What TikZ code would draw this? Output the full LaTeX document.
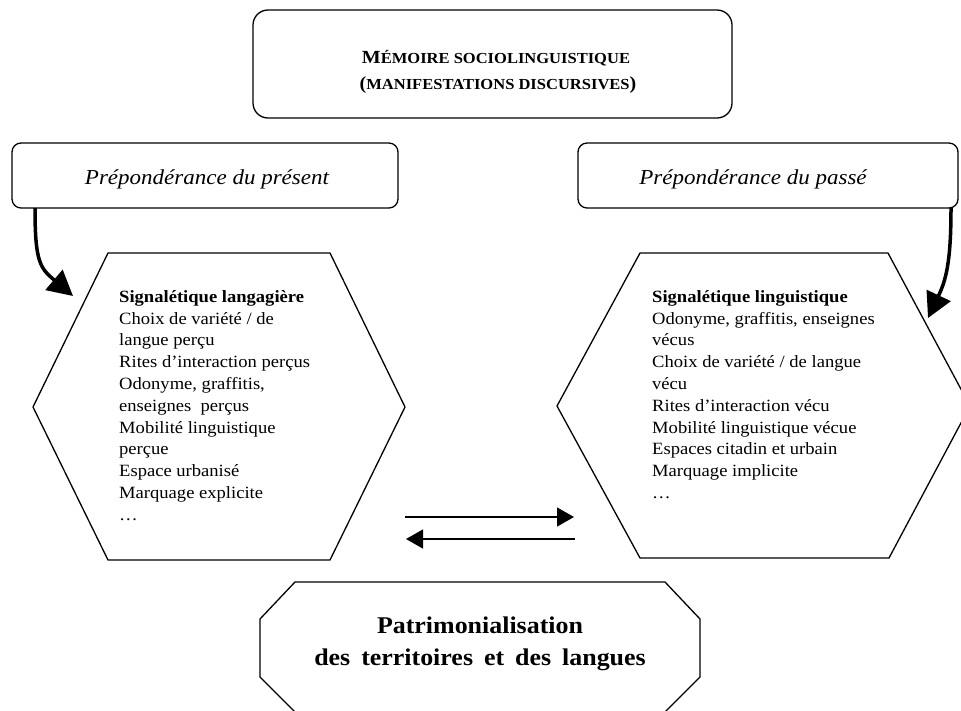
\documentclass[tikz,border=0pt]{standalone}
\usepackage{fontspec}
\setmainfont{Liberation Serif}[FakeStretch=1.08]
\usetikzlibrary{arrows.meta}
\newcommand\bigsc[1]{{\fontsize{18.5}{22}\selectfont #1}}
\newcommand\smsc[1]{{\fontsize{15.3}{18}\selectfont #1}}
\newcommand\widewordspace{\spaceskip=11pt\relax}
\begin{document}
\begin{tikzpicture}[x=1pt,y=-1pt,
  shapeline/.style={line width=1.3pt, line join=miter},
  tabbox/.style={draw, line width=1.3pt, rounded corners=9pt, minimum height=65pt, inner sep=0pt},
  tabtext/.style={font=\fontsize{21.3}{25}\selectfont\itshape, inner sep=0pt, anchor=base},
  titletext/.style={font=\bfseries, inner sep=0pt, anchor=base},
  hextext/.style={font=\fontsize{17.2}{21.8}\selectfont, align=left, inner sep=0pt, anchor=north west},
  bottomtext/.style={font=\fontsize{24}{30}\selectfont\bfseries\widewordspace, inner sep=0pt, anchor=base},
  bigarrow/.style={line width=3.5pt, -{Triangle[length=25pt,width=26pt]}},
  smallarrow/.style={line width=1.3pt, -{Triangle[length=17pt,width=19pt]}},
]
\useasboundingbox (0,0) rectangle (961,710);
\clip (0,0) rectangle (961,710);

% title box
\node[draw, line width=1.3pt, rounded corners=15pt, minimum width=479pt, minimum height=108pt, inner sep=0pt] (top) at (492.5,64) {};
\node[titletext] (title1) at (496,63) {\bigsc{M}\smsc{ÉMOIRE SOCIOLINGUISTIQUE}};
\node[titletext] (title2) at (498,89) {\bigsc{(}\smsc{MANIFESTATIONS DISCURSIVES}\bigsc{)}};

% tabs
\node[tabbox, minimum width=386pt] (ltab) at (205,175.5) {};
\node[tabtext] (ltabtext) at (207,184) {Prépondérance du présent};
\node[tabbox, minimum width=380pt] (rtab) at (768,175.5) {};
\node[tabtext] (rtabtext) at (753,184) {Prépondérance du passé};

% hexagons
\draw[shapeline] (33,407) -- (108,253) -- (330,253) -- (405,407) -- (330,560) -- (108,560) -- cycle;
\draw[shapeline] (557,406) -- (640,253) -- (888,253) -- (970,406) -- (889,558) -- (640,558) -- cycle;

\node[hextext] (lhex) at (119,288) {\rule{0pt}{14pt}\textbf{Signalétique langagière}\\
Choix de variété / de\\
langue perçu\\
Rites d’interaction perçus\\
Odonyme, graffitis,\\
enseignes\ \ perçus\\
Mobilité linguistique\\
perçue\\
Espace urbanisé\\
Marquage explicite\\
…};

\node[hextext] (rhex) at (652,288) {\rule{0pt}{14pt}\textbf{Signalétique linguistique}\\
Odonyme, graffitis, enseignes\\
vécus\\
Choix de variété / de langue\\
vécu\\
Rites d’interaction vécu\\
Mobilité linguistique vécue\\
Espaces citadin et urbain\\
Marquage implicite\\
…};

% octagon
\draw[shapeline] (295,582) -- (665,582) -- (700,619) -- (700,677) -- (664,713) -- (296,713) -- (260,677) -- (260,619) -- cycle;
\node[bottomtext] (bot1) at (480,633) {Patrimonialisation};
\node[bottomtext] (bot2) at (480,665) {des territoires et des langues};

% curved arrows
\coordinate (lstart) at (35,208);
\coordinate (ltip) at (73,296);
\coordinate (rstart) at (951,208);
\coordinate (rtip) at (928,318);
\draw[bigarrow] (lstart) .. controls (35,262) and (40,268) .. (ltip);
\draw[bigarrow] (rstart) .. controls (951,262) and (946,280) .. (rtip);

% straight arrows
\coordinate (a1s) at (405,517);
\coordinate (a1e) at (574,517);
\coordinate (a2s) at (575,539);
\coordinate (a2e) at (406,539);
\draw[smallarrow] (a1s) -- (a1e);
\draw[smallarrow] (a2s) -- (a2e);
\end{tikzpicture}
\end{document}
